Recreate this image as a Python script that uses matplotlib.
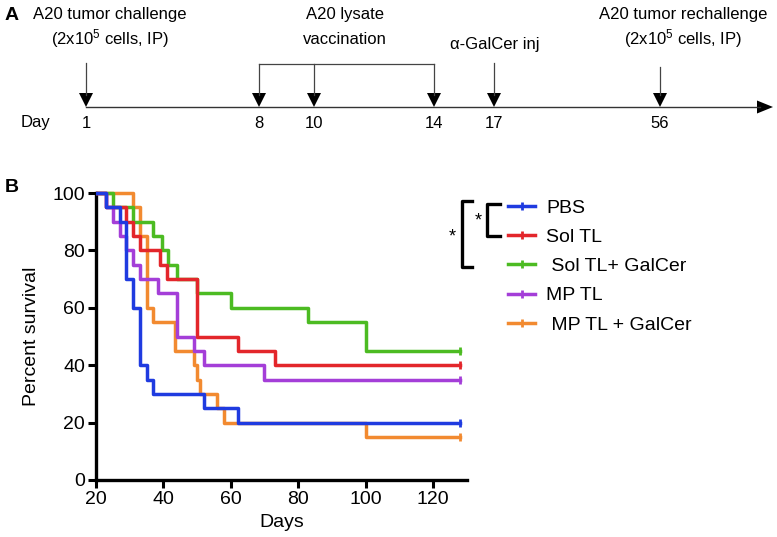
import numpy as np
import matplotlib
matplotlib.use('Agg')
import matplotlib.pyplot as plt
from matplotlib.lines import Line2D
from matplotlib.patches import Rectangle

plt.rcParams['font.family'] = ['Liberation Sans', 'DejaVu Sans']
plt.rcParams['mathtext.default'] = 'regular'

# survival data (days, percent survival)
pbs_t = [0, 23, 27, 29, 31, 33, 35, 37, 52, 62, 128]
pbs_s = [100, 95, 90, 70, 60, 40, 35, 30, 25, 20, 20]

sol_t = [0, 23, 29, 31, 33, 39, 41, 50, 62, 73, 128]
sol_s = [100, 95, 90, 85, 80, 75, 70, 50, 45, 40, 40]

solg_t = [0, 25, 31, 37, 39.5, 41.5, 44, 50, 60, 83, 100, 128]
solg_s = [100, 95, 90, 85, 80, 75, 70, 65, 60, 55, 45, 45]

mp_t = [0, 23, 25, 27, 29, 31, 33, 38.5, 44, 49, 52, 70, 128]
mp_s = [100, 95, 90, 85, 80, 75, 70, 65, 50, 45, 40, 35, 35]

mpg_t = [0, 31, 33, 35, 37, 43.5, 49, 50, 51, 56, 58, 100, 128]
mpg_s = [100, 95, 85, 60, 55, 45, 40, 35, 30, 25, 20, 15, 15]

labels = ['PBS', 'Sol TL', ' Sol TL+ GalCer', 'MP TL', ' MP TL + GalCer']
times = [pbs_t, sol_t, solg_t, mp_t, mpg_t]
surv = [pbs_s, sol_s, solg_s, mp_s, mpg_s]
colors = ['#1f3be0', '#e3262b', '#4cbb22', '#a43ed8', '#f28a30']
zorders = [6, 5, 3, 4, 2]

# timeline (schematic)
tl_days = [1, 8, 10, 14, 17, 56]
tl_x = [86, 259, 314, 434, 494, 660]
tl_top = [63, 64, 64, 64, 63, 67]

fig = plt.figure(figsize=(7.77, 5.37), dpi=100)

axA = fig.add_axes([0, 0, 1, 1])
axA.set_xlim(0, 777)
axA.set_ylim(537, 0)
axA.axis('off')

line_y = 107
axA.plot([86, 760], [line_y, line_y], color='#333333', lw=1)
axA.fill([757, 773, 757], [line_y - 6.5, line_y, line_y + 6.5], color='black', lw=0)
for d, x, top in zip(tl_days, tl_x, tl_top):
    axA.plot([x, x], [top, line_y - 12], color='#444444', lw=0.9)
    axA.fill([x - 7, x + 7, x], [line_y - 14, line_y - 14, line_y], color='black', lw=0)
    axA.text(x, 123, str(d), ha='center', va='center', fontsize=12)
axA.plot([259, 434], [64, 64], color='#444444', lw=0.9)
axA.text(36, 123, 'Day', ha='center', va='center', fontsize=12)

axA.text(110, 15, 'A20 tumor challenge', ha='center', va='center', fontsize=12)
axA.text(110, 39, '(2x10$^5$ cells, IP)', ha='center', va='center', fontsize=12)
axA.text(345, 15, 'A20 lysate', ha='center', va='center', fontsize=12)
axA.text(345, 39, 'vaccination', ha='center', va='center', fontsize=12)
axA.text(495, 44, '\u03b1-GalCer inj', ha='center', va='center', fontsize=12)
axA.text(683, 15, 'A20 tumor rechallenge', ha='center', va='center', fontsize=12)
axA.text(683, 39, '(2x10$^5$ cells, IP)', ha='center', va='center', fontsize=12)

axA.text(5, 15, 'A', ha='left', va='center', fontsize=14, fontweight='bold')
axA.text(5, 188, 'B', ha='left', va='center', fontsize=14, fontweight='bold')

# significance brackets
axA.plot([500, 487, 487, 500], [204, 204, 236, 236], color='black', lw=2.4)
axA.plot([472, 462, 462, 472], [201, 201, 267, 267], color='black', lw=2.4)
axA.text(478, 221, '*', ha='center', va='center', fontsize=13)
axA.text(452, 237, '*', ha='center', va='center', fontsize=13)

# survival panel
axB = fig.add_axes([96 / 777, 1 - 480 / 537, (466.7 - 96) / 777, (480 - 193) / 537])
axB.patch.set_alpha(0)
clip = Rectangle((0, -0.05), 1.05, 1.1, transform=axB.transAxes)
for t, s, c, z in zip(times, surv, colors, zorders):
    ln, = axB.step(t, s, where='post', color=c, lw=2.5, zorder=z)
    ln.set_clip_path(clip)
    axB.plot(t[-1], s[-1], marker='|', ms=6, mew=2, color=c, zorder=z, clip_on=False)

axB.set_xlim(20, 130)
axB.set_ylim(0, 100)
axB.set_xticks(np.arange(20, 121, 20))
axB.set_yticks(np.arange(0, 101, 20))
for sp in ['top', 'right']:
    axB.spines[sp].set_visible(False)
for sp in ['left', 'bottom']:
    axB.spines[sp].set_linewidth(2.4)
axB.tick_params(direction='out', length=6, width=2.2, labelsize=14, pad=2)
axB.set_ylabel('Percent survival', fontsize=14, labelpad=9)
axB.set_xlabel('Days', fontsize=14, labelpad=4)

handles = [Line2D([0], [0], color=c, lw=2.5, marker='|', ms=6, mew=2) for c in colors]
fig.legend(handles, labels, loc='upper left', bbox_to_anchor=(508 / 777, 1 - 199 / 537),
           frameon=False, fontsize=14, handlelength=1.4, handletextpad=0.55,
           labelspacing=0.6, borderpad=0, borderaxespad=0, numpoints=1)

fig.savefig('out.png', dpi=100)
